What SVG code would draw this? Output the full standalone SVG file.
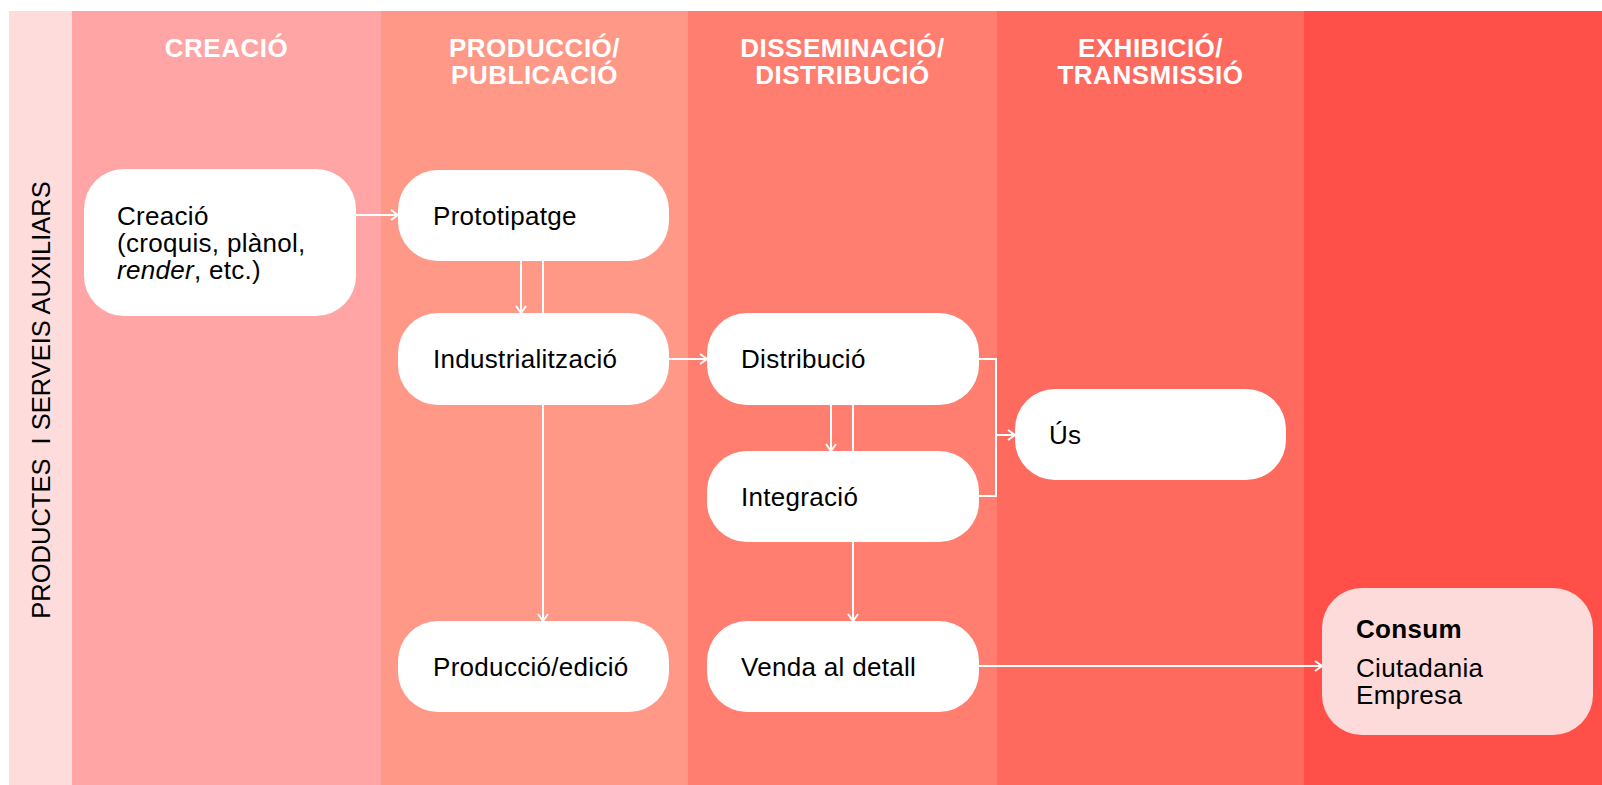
<svg xmlns="http://www.w3.org/2000/svg" width="1602" height="785" viewBox="0 0 1602 785">
<style>
.hdr{font-family:"Liberation Sans",Arial,Helvetica,sans-serif;font-weight:bold;font-size:26px;fill:#fff;text-anchor:middle;letter-spacing:0.5px}
.node rect{fill:#fff}
.lbl{font-family:"Liberation Sans",Arial,Helvetica,sans-serif;font-size:26px;fill:#000;letter-spacing:0.3px}
.side{font-family:"Liberation Sans",Arial,Helvetica,sans-serif;font-size:25.5px;fill:#000;text-anchor:middle}
.conn path{fill:none;stroke:#fff;stroke-width:2}
</style>
<defs>
<marker id="arr" markerUnits="userSpaceOnUse" markerWidth="12" markerHeight="14" refX="8" refY="6" orient="auto">
<path d="M1,1 L8,6 L1,11" fill="none" stroke="#fff" stroke-width="2"/>
</marker>
</defs>
<g id="background">
<rect x="9" y="11" width="63" height="774" fill="#FDDCDB"/>
<rect x="72" y="11" width="309" height="774" fill="#FFA5A5"/>
<rect x="381" y="11" width="307" height="774" fill="#FF9887"/>
<rect x="688" y="11" width="309" height="774" fill="#FF7E70"/>
<rect x="997" y="11" width="307" height="774" fill="#FF6A5F"/>
<rect x="1304" y="11" width="298" height="774" fill="#FF4F48"/>
</g>
<g id="headers">
<text class="hdr" x="226.5" y="57">CREACIÓ</text>
<text class="hdr" x="534.5" y="57">PRODUCCIÓ/</text>
<text class="hdr" x="534.5" y="84">PUBLICACIÓ</text>
<text class="hdr" x="842.5" y="57">DISSEMINACIÓ/</text>
<text class="hdr" x="842.5" y="84">DISTRIBUCIÓ</text>
<text class="hdr" x="1150.5" y="57">EXHIBICIÓ/</text>
<text class="hdr" x="1150.5" y="84">TRANSMISSIÓ</text>
</g>
<g id="side-label">
<text class="side" transform="translate(49.5,400) rotate(-90)" xml:space="preserve">PRODUCTES  I SERVEIS AUXILIARS</text>
</g>
<g id="connectors" class="conn">
<path d="M356,215 H398" marker-end="url(#arr)"/>
<path d="M521,261 V313" marker-end="url(#arr)"/>
<path d="M543,261 V621" marker-end="url(#arr)"/>
<path d="M669,359 H707" marker-end="url(#arr)"/>
<path d="M831,405 V451" marker-end="url(#arr)"/>
<path d="M853,405 V621" marker-end="url(#arr)"/>
<path d="M979,359 H996 V496 H979"/>
<path d="M996,435 H1015" marker-end="url(#arr)"/>
<path d="M979,666 H1322" marker-end="url(#arr)"/>
</g>
<g id="node-creacio" class="node">
<rect x="84" y="169" width="272" height="147" rx="40"/>
<text class="lbl" x="117" y="225">Creació</text>
<text class="lbl" x="117" y="252">(croquis, plànol,</text>
<text class="lbl" x="117" y="279"><tspan font-style="italic">render</tspan>, etc.)</text>
</g>
<g id="node-prototipatge" class="node">
<rect x="398" y="170" width="271" height="91" rx="40"/>
<text class="lbl" x="433" y="225">Prototipatge</text>
</g>
<g id="node-industrialitzacio" class="node">
<rect x="398" y="313" width="271" height="92" rx="40"/>
<text class="lbl" x="433" y="368">Industrialització</text>
</g>
<g id="node-produccio" class="node">
<rect x="398" y="621" width="271" height="91" rx="40"/>
<text class="lbl" x="433" y="676">Producció/edició</text>
</g>
<g id="node-distribucio" class="node">
<rect x="707" y="313" width="272" height="92" rx="40"/>
<text class="lbl" x="741" y="368">Distribució</text>
</g>
<g id="node-integracio" class="node">
<rect x="707" y="451" width="272" height="91" rx="40"/>
<text class="lbl" x="741" y="506">Integració</text>
</g>
<g id="node-venda" class="node">
<rect x="707" y="621" width="272" height="91" rx="40"/>
<text class="lbl" x="741" y="676">Venda al detall</text>
</g>
<g id="node-us" class="node">
<rect x="1015" y="389" width="271" height="91" rx="40"/>
<text class="lbl" x="1049" y="444">Ús</text>
</g>
<g id="node-consum">
<rect x="1322" y="588" width="271" height="147" rx="40" fill="#FDDBDA"/>
<text class="lbl" x="1356" y="638" font-weight="bold">Consum</text>
<text class="lbl" x="1356" y="677">Ciutadania</text>
<text class="lbl" x="1356" y="704">Empresa</text>
</g>
</svg>
